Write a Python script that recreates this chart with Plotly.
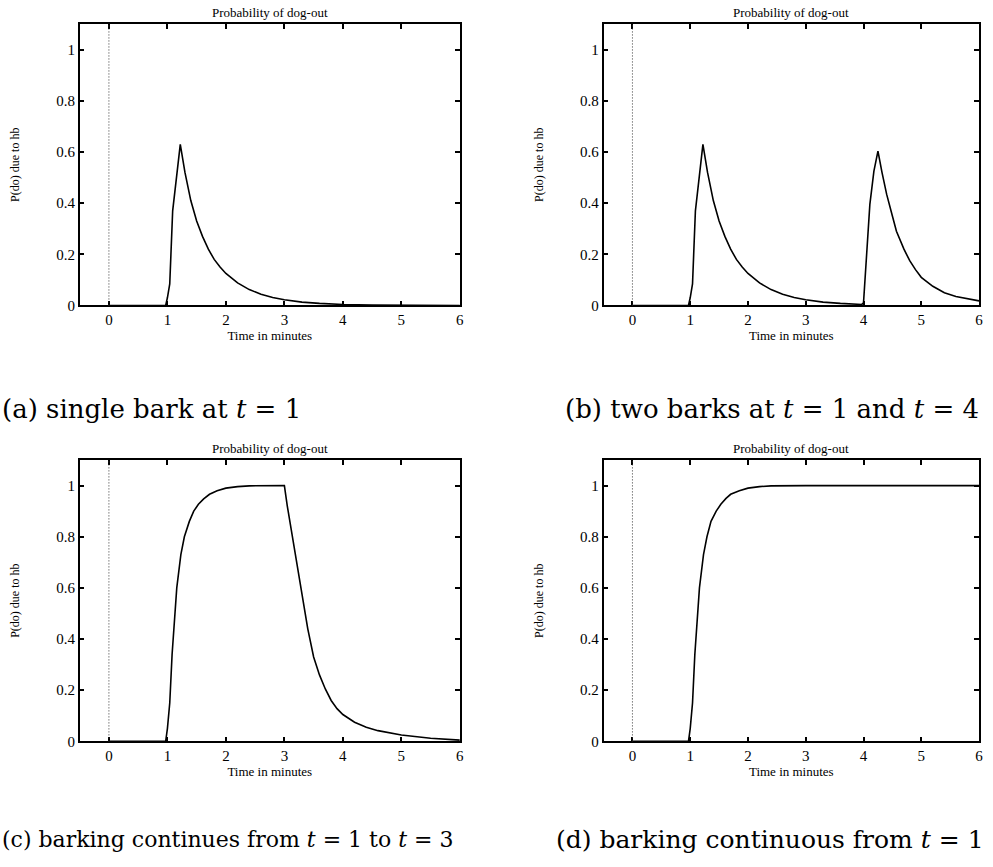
import plotly.graph_objects as go

# ---- data ----
t_a = [0, 0.97, 1.0, 1.04, 1.09, 1.15, 1.22, 1.3, 1.4, 1.5, 1.6, 1.7, 1.8, 1.9, 2.0,
       2.2, 2.4, 2.6, 2.8, 3.0, 3.3, 3.6, 4.0, 4.5, 5.0, 5.5, 6.0]
p_a = [0, 0, 0.03, 0.084, 0.37, 0.5, 0.63, 0.52, 0.41, 0.33, 0.27, 0.22, 0.18, 0.15, 0.125,
       0.088, 0.062, 0.044, 0.031, 0.022, 0.013, 0.008, 0.004, 0.002, 0.001, 0.0005, 0.0]

t_b = [0, 0.97, 1.0, 1.04, 1.09, 1.15, 1.22, 1.3, 1.4, 1.5, 1.6, 1.7, 1.8, 1.9, 2.0,
       2.2, 2.4, 2.6, 2.8, 3.0, 3.3, 3.6, 3.97, 4.0, 4.04, 4.11, 4.18, 4.25, 4.32, 4.4,
       4.5, 4.57, 4.7, 4.8, 4.9, 5.0, 5.2, 5.4, 5.6, 5.8, 6.0]
p_b = [0, 0, 0.03, 0.084, 0.37, 0.5, 0.63, 0.52, 0.41, 0.33, 0.27, 0.22, 0.18, 0.15, 0.125,
       0.088, 0.062, 0.044, 0.031, 0.022, 0.013, 0.008, 0.004, 0.01, 0.14, 0.395, 0.525, 0.603, 0.52, 0.435,
       0.35, 0.29, 0.22, 0.175, 0.14, 0.11, 0.075, 0.05, 0.035, 0.025, 0.018]

t_c = [0, 0.97, 1.0, 1.04, 1.08, 1.12, 1.16, 1.23, 1.29, 1.375, 1.45, 1.53, 1.62, 1.72, 1.85,
       2.0, 2.2, 2.4, 2.7, 3.0, 3.05, 3.1, 3.2, 3.3, 3.4, 3.5, 3.6, 3.7, 3.8, 3.9,
       4.0, 4.2, 4.4, 4.6, 4.8, 5.0, 5.5, 6.0]
p_c = [0, 0, 0.05, 0.15, 0.34, 0.48, 0.6, 0.73, 0.8, 0.86, 0.9, 0.927, 0.948, 0.966, 0.98,
       0.99, 0.996, 0.999, 1.0, 1.0, 0.92, 0.85, 0.72, 0.57, 0.44, 0.33, 0.26, 0.205, 0.16, 0.128,
       0.105, 0.075, 0.055, 0.042, 0.032, 0.025, 0.012, 0.005]

t_d = [0, 0.97, 1.0, 1.04, 1.08, 1.12, 1.16, 1.23, 1.29, 1.36, 1.45, 1.53, 1.62, 1.7, 1.85,
       2.0, 2.2, 2.4, 2.7, 3.0, 4.0, 5.0, 6.0]
p_d = [0, 0, 0.05, 0.15, 0.34, 0.48, 0.6, 0.73, 0.8, 0.86, 0.9, 0.927, 0.95, 0.966, 0.98,
       0.99, 0.996, 0.999, 1.0, 1.0, 1.0, 1.0, 1.0]

x_ticks = [0, 1, 2, 3, 4, 5, 6]
y_ticks = [0, 0.2, 0.4, 0.6, 0.8, 1]
y_tick_text = ["0", "0.2", "0.4", "0.6", "0.8", "1"]

panel_title = "Probability of dog-out"
x_title = "Time in minutes"
y_title = "P(do) due to hb"
captions = [
    "(a) single bark at <i>t</i> = 1",
    "(b) two barks at <i>t</i> = 1 and <i>t</i> = 4",
    "(c) barking continues from <i>t</i> = 1 to <i>t</i> = 3",
    "(d) barking continuous from <i>t</i> = 1",
]
series = [(t_a, p_a), (t_b, p_b), (t_c, p_c), (t_d, p_d)]

# ---- layout ----
W, H = 993, 867
xdoms = [[80 / W, 461.7 / W], [606 / W, 983 / W]]
ydoms = [[1 - 308.3 / H, 1 - 24.3 / H], [1 - 748.3 / H, 1 - 464.3 / H]]

SERIF = "Liberation Serif, Times New Roman, serif"
CAPFONT = "DejaVu Serif, serif"

fig = go.Figure()
axis_common = dict(
    showline=True, linecolor="black", linewidth=1.5, mirror="ticks",
    ticks="inside", ticklen=5, tickwidth=1.5, tickcolor="black",
    showgrid=False, zeroline=False,
    tickfont=dict(family=SERIF, size=15, color="black"),
)

for i, (tx, py) in enumerate(series):
    r, c = divmod(i, 2)
    n = i + 1
    xa = "x" if n == 1 else f"x{n}"
    ya = "y" if n == 1 else f"y{n}"
    fig.add_trace(go.Scatter(x=tx, y=py, mode="lines",
                             line=dict(color="black", width=1.6),
                             xaxis=xa, yaxis=ya, showlegend=False,
                             hoverinfo="skip"))
    xkey = "xaxis" if n == 1 else f"xaxis{n}"
    ykey = "yaxis" if n == 1 else f"yaxis{n}"
    fig.layout[xkey] = dict(
        axis_common, domain=xdoms[c], anchor=ya, range=[-0.5, 6],
        tickvals=x_ticks,
        title=dict(text=x_title, standoff=0,
                   font=dict(family=SERIF, size=13, color="black")),
    )
    fig.layout[ykey] = dict(
        axis_common, domain=ydoms[r], anchor=xa, range=[0, 1.1],
        tickvals=y_ticks, ticktext=y_tick_text,
        title=dict(text=y_title, standoff=34,
                   font=dict(family=SERIF, size=12, color="black")),
    )
    # dotted zero line at t = 0
    fig.add_shape(type="line", xref=xa, yref=f"{ya} domain",
                  x0=0, x1=0, y0=0, y1=1,
                  line=dict(color="#333333", width=1, dash="1px,2px"))
    # panel title
    fig.add_annotation(text=panel_title, xref=f"{xa} domain", yref=f"{ya} domain",
                       x=0.5, y=1, yanchor="bottom", yshift=2, showarrow=False,
                       font=dict(family=SERIF, size=13, color="black"))

# captions
cap_pos = [(0.0, 1 - 413 / H, "left", 26), (985 / W, 1 - 413 / H, "right", 26),
           (0.0, 1 - 847 / H, "left", 22), (990 / W, 1 - 847 / H, "right", 25)]
for cap, (cx, cy, anc, fs) in zip(captions, cap_pos):
    fig.add_annotation(text=cap, xref="paper", yref="paper", x=cx, y=cy,
                       xanchor=anc, yanchor="middle", showarrow=False,
                       font=dict(family=CAPFONT, size=fs, color="black"))

fig.update_layout(
    width=W, height=H, margin=dict(l=0, r=0, t=0, b=0),
    paper_bgcolor="white", plot_bgcolor="white",
)

fig.write_html("out.html", config={"displayModeBar": False},
               post_script="document.body.style.margin='0px';")
